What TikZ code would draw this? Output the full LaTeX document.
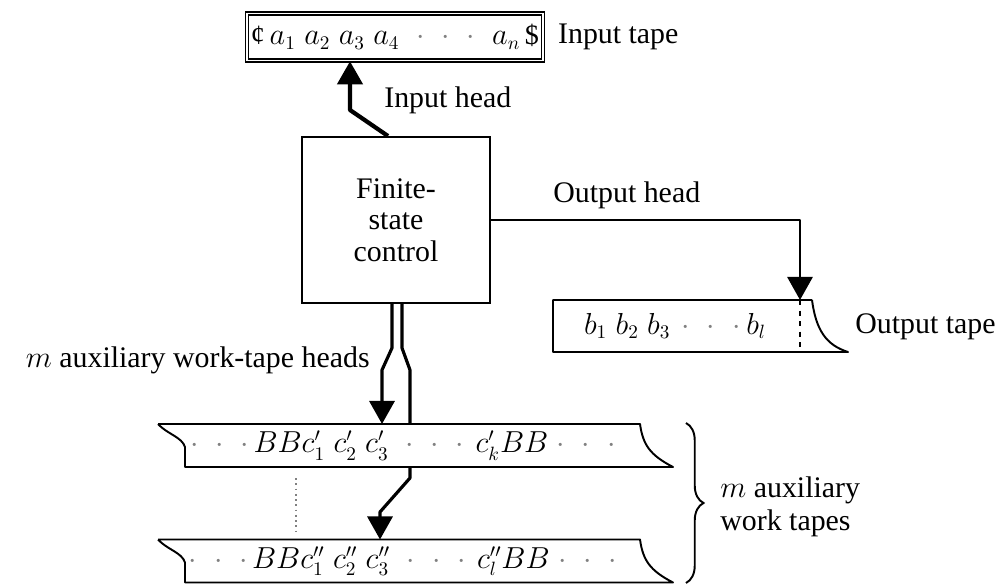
\documentclass[tikz,border=0pt]{standalone}
\usepackage{fontspec}
\setmainfont{Liberation Serif}
\usepackage{tikz}
\usetikzlibrary{arrows.meta,positioning,calc,decorations.pathreplacing}
\newcommand\lblfont{\fontsize{17}{21}\selectfont}
\newcommand\tapefont{\fontsize{16}{19}\selectfont}
\newcommand\gdots{\textcolor{gray}{$\cdot$\hspace{0.6em}$\cdot$\hspace{0.6em}$\cdot$}}
\tikzset{
  intape/.style={draw=black,line width=0.9pt,double,double distance=1pt,minimum width=5.92cm,minimum height=0.94cm,inner sep=0pt,font=\tapefont},
  fsc/.style={draw=black,line width=1.1pt,minimum width=3.76cm,minimum height=3.32cm,align=center,font=\lblfont},
  slot/.style={inner sep=0pt,outer sep=0pt,minimum width=#1,minimum height=0.86cm},
  txt/.style={font=\tapefont,inner sep=0pt},
  lbl/.style={font=\lblfont,anchor=west,inner sep=0pt,align=left},
  tapeline/.style={line width=1.1pt,line join=round},
  wire/.style={line width=1.8pt,line join=round},
  head/.style={wire,-{Triangle[length=4.6mm,width=5mm]}},
}

\begin{document}
\begin{tikzpicture}
    \useasboundingbox (0,0) rectangle (20.02,11.74);
    % tapes and control
    \node[intape] (in) at (7.9,11.0) {{\textcent}\,$a_1\;a_2\;a_3\;a_4$\hspace{0.6em}\gdots\hspace{0.6em}$a_n$\,\$};
    \node[lbl,right=0.28cm of in] (inlbl) {Input tape};
    \node[fsc] (fsc) at (7.92,7.34) {Finite-\\[-3pt]state\\[-3pt]control};
    \node[slot=4.94cm,minimum height=1.04cm] (out) at (13.53,5.22) {};
    \node[txt] (outtxt) at (13.5,5.22) {$b_1\;b_2\;b_3$\hspace{0.4em}\gdots\hspace{0.2em}$b_l$};
    \node[lbl] (outlbl) at (17.1,5.2) {Output tape};
    \node[slot=9.1cm] (tape1) at (8.25,2.83) {};
    \node[slot=9.1cm] (tape2) at (8.25,0.52) {};
    \node[txt] (t1txt) at (8.06,2.83) {\gdots\hspace{0.15em}$BBc'_1\;c'_2\;c'_3$\hspace{0.6em}\gdots\hspace{0.4em}$c'_kBB$\hspace{0.3em}\gdots};
    \node[txt] (t2txt) at (8.06,0.52) {\gdots\hspace{0.15em}$BBc''_1\;c''_2\;c''_3$\hspace{0.6em}\gdots\hspace{0.4em}$c''_lBB$\hspace{0.3em}\gdots};
    % tape outlines
    \draw[tapeline] ($(out.north east)+(0.24,0)$) -- (out.north west) -- (out.south west) -- ($(out.south east)+(0.96,0)$)
      .. controls ($(out.north east)+(0.52,-0.9)$) and ($(out.north east)+(0.32,-0.6)$) .. ($(out.north east)+(0.24,0)$);
    \draw[line width=0.7pt,dashed] (out.north east) -- (out.south east);
    \foreach \t in {1,2} {
      \draw[tapeline] ($(tape\t.north west)+(-0.54,0)$) -- (tape\t.north east)
        .. controls ($(tape\t.north east)+(0.06,-0.42)$) and ($(tape\t.north east)+(0.2,-0.62)$) .. ($(tape\t.south east)+(0.66,0)$)
        -- (tape\t.south west) -- ($(tape\t.south west)+(0,0.4)$)
        .. controls ($(tape\t.south west)+(-0.06,0.6)$) and ($(tape\t.north west)+(-0.36,-0.2)$) .. ($(tape\t.north west)+(-0.54,0)$);
    }
    % heads
    \coordinate (ih) at (7.0,9.54);
    \draw[head,line width=2.4pt] ($(fsc.north)+(-0.16,0)$) -- (ih) -- (ih |- in.south);
    \node[lbl] (ihlbl) at (7.68,9.74) {Input head};
    \draw[head,line width=1.6pt] (fsc.east) -- (fsc.east -| out.north east) -- (out.north east);
    \node[lbl] (ohlbl) at (11.06,7.84) {Output head};
    \coordinate (hl) at (7.64,4.34); \coordinate (hr) at (8.2,4.34);
    \draw[head] ($(fsc.south)+(-0.08,0)$) -- ++(0,-0.88) -- (hl) -- (hl |- tape1.north);
    \draw[wire] ($(fsc.south)+(0.12,0)$) -- ++(0,-0.88) -- (hr) -- (hr |- tape1.north);
    \node[lbl,anchor=east] (whlbl) at (7.4,4.54) {$m$ auxiliary work-tape heads};
    \coordinate (ha) at (8.2,2.18); \coordinate (hb) at (7.6,1.5);
    \draw[head] (ha |- tape1.south) -- (ha) -- (hb) -- (hb |- tape2.north);
    \draw[gray,dotted,line width=1pt] (5.92,2.18) -- (5.92,1.1);
    \draw[decorate,decoration={brace,amplitude=0.35cm},line width=1.1pt] (13.72,3.28) -- (13.72,0.08);
    \node[lbl] (wtlbl) at (14.4,1.6) {$m$ auxiliary\\[-2pt]work tapes};
\end{tikzpicture}
\end{document}
